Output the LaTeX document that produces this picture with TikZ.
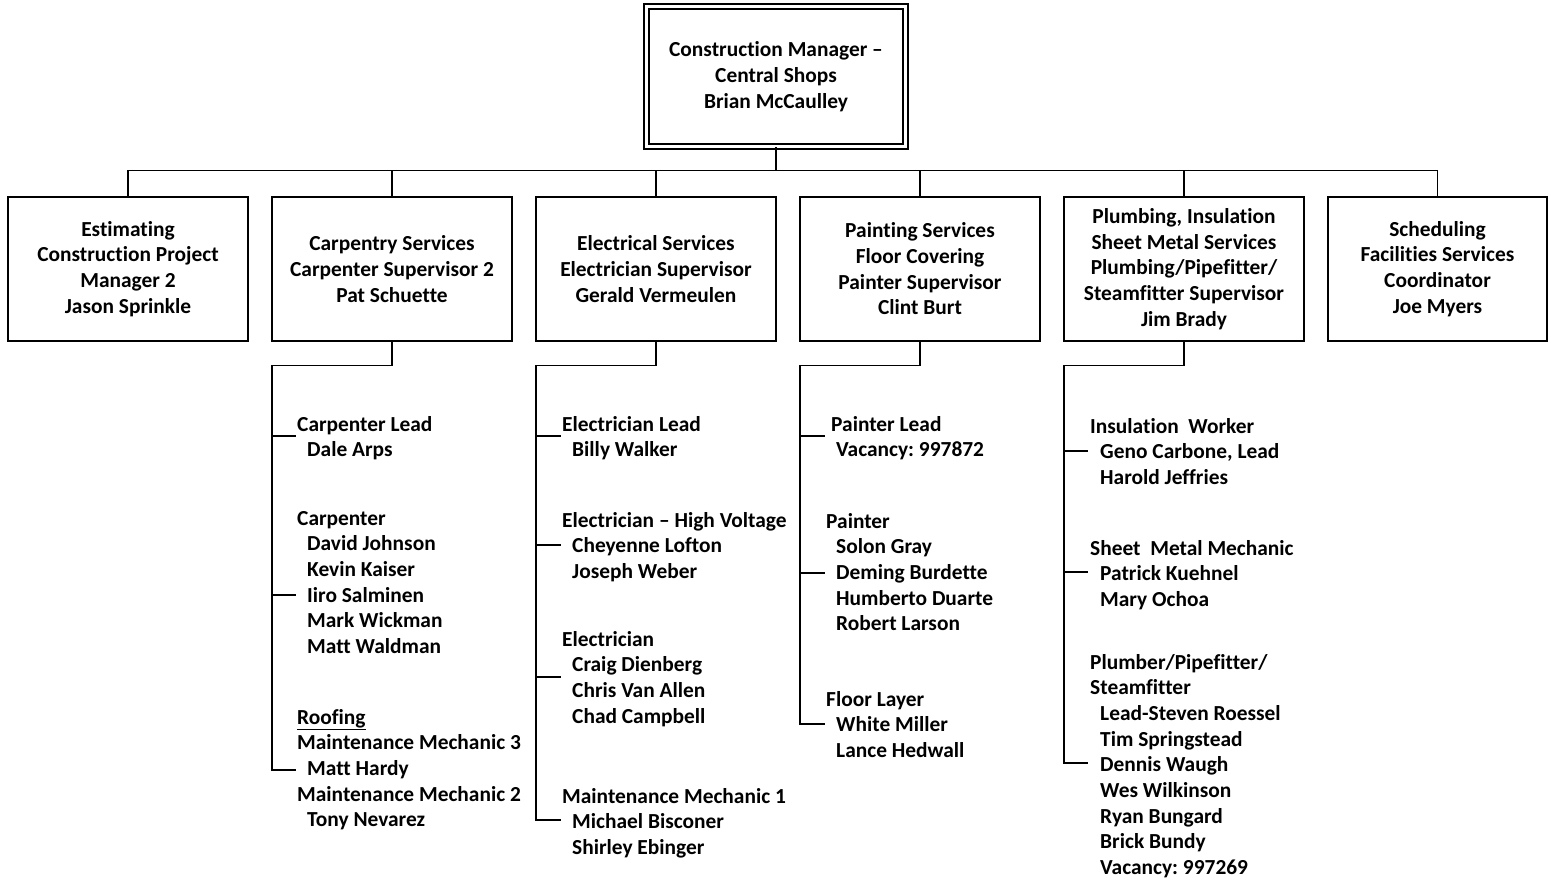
\documentclass[tikz,border=0pt]{standalone}
\usepackage{fontspec}
\setmainfont{Carlito}[Ligatures=NoCommon]
\usetikzlibrary{calc}
\tikzset{
  every node/.style={font=\fontsize{21.4}{25.7}\selectfont\bfseries},
  ln/.style={line width=1.4pt, line cap=rect},
  unitbox/.style={draw, line width=1.4pt, minimum width=240pt, minimum height=144pt, align=center, inner sep=0pt},
  topbox/.style={draw, double, double distance=3.4pt, line width=1.4pt, minimum width=259pt, minimum height=140pt, align=center, inner sep=0pt},
  item/.style={anchor=base west, inner sep=0pt},
}
\newcommand\grp[4]{%
  \foreach \dx/\t [count=\i from 0] in {#4} {\node[item] (#1-\i) at (#2+\dx, #3+\i*25.7) {\t};}%
}
\newcommand\tickln[4]{%
  \coordinate (#1s) at (#2,#4);
  \coordinate (#1e) at (#3,#4);
  \draw[ln] (#1s) -- (#1e);%
}
\frenchspacing
\begin{document}
\begin{tikzpicture}[x=1pt,y=-1pt]
\useasboundingbox (0,0) rectangle (1551,879);

\node[topbox] (top) at (776,76.5) {Construction Manager --\\Central Shops\\Brian McCaulley};

\node[unitbox] (b1) at (128,269) {Estimating\\Construction Project\\Manager 2\\Jason Sprinkle};
\node[unitbox] (b2) at (392,269) {Carpentry Services\\Carpenter Supervisor 2\\Pat Schuette};
\node[unitbox] (b3) at (656,269) {Electrical Services\\Electrician Supervisor\\Gerald Vermeulen};
\node[unitbox] (b4) at (920,269) {Painting Services\\Floor Covering\\Painter Supervisor\\Clint Burt};
\node[unitbox] (b5) at (1184,269) {Plumbing, Insulation\\Sheet Metal Services\\Plumbing/Pipefitter/\\Steamfitter Supervisor\\Jim Brady};
\node[unitbox, minimum width=219pt] (b6) at (1437.5,269) {Scheduling\\Facilities Services\\Coordinator\\Joe Myers};

\foreach \b in {b1,b2,b3,b4,b5,b6}
  \draw[ln] (top.south) -- ++(0,23.5) -| (\b.north);

% sub-trees
\coordinate (v2) at (272,770);
\coordinate (v3) at (536,820);
\coordinate (v4) at (800,724);
\coordinate (v5) at (1064,763);
\foreach \b/\v in {b2/v2,b3/v3,b4/v4,b5/v5}
  \draw[ln] (\b.south) -- ++(0,24) -| (\v);

% carpentry
\tickln{c1}{272}{295}{436}
\tickln{c2}{272}{295}{595}
\tickln{c3}{272}{295}{770}
\grp{ca}{297}{431}{0/Carpenter Lead,10/Dale Arps}
\grp{cb}{297}{525}{0/Carpenter,10/David Johnson,10/Kevin Kaiser,10/Iiro Salminen,10/Mark Wickman,10/Matt Waldman}
\grp{cc}{297}{724}{0/\underline{Roofing},0/Maintenance Mechanic 3,10/Matt Hardy,0/Maintenance Mechanic 2,10/Tony Nevarez}

% electrical
\tickln{e1}{536}{560}{436}
\tickln{e2}{536}{560}{545}
\tickln{e3}{536}{560}{677}
\tickln{e4}{536}{560}{820}
\grp{ea}{562}{431}{0/Electrician Lead,10/Billy Walker}
\grp{eb}{562}{527}{0/Electrician -- High Voltage,10/Cheyenne Lofton,10/Joseph Weber}
\grp{ec}{562}{646}{0/Electrician,10/Craig Dienberg,10/Chris Van Allen,10/Chad Campbell}
\grp{ed}{562}{803}{0/Maintenance Mechanic 1,10/Michael Bisconer,10/Shirley Ebinger}

% painting
\tickln{p1}{800}{824}{436}
\tickln{p2}{800}{824}{573}
\tickln{p3}{800}{824}{724}
\grp{pa}{831}{431}{0/Painter Lead,5/Vacancy: 997872}
\grp{pb}{826}{528}{0/Painter,10/Solon Gray,10/Deming Burdette,10/Humberto Duarte,10/Robert Larson}
\grp{pc}{826}{706}{0/Floor Layer,10/White Miller,10/Lance Hedwall}

% plumbing
\tickln{l1}{1064}{1087}{451}
\tickln{l2}{1064}{1087}{572}
\tickln{l3}{1064}{1087}{763}
\grp{la}{1090}{433}{0/Insulation\ \ Worker,10/{Geno Carbone, Lead},10/Harold Jeffries}
\grp{lb}{1090}{555}{0/Sheet\ \ Metal Mechanic,10/Patrick Kuehnel,10/Mary Ochoa}
\grp{lc}{1090}{669}{0/{Plumber/Pipefitter/},0/Steamfitter,10/Lead-Steven Roessel,10/Tim Springstead,10/Dennis Waugh,10/Wes Wilkinson,10/Ryan Bungard,10/Brick Bundy,10/Vacancy: 997269}
\end{tikzpicture}
\end{document}
